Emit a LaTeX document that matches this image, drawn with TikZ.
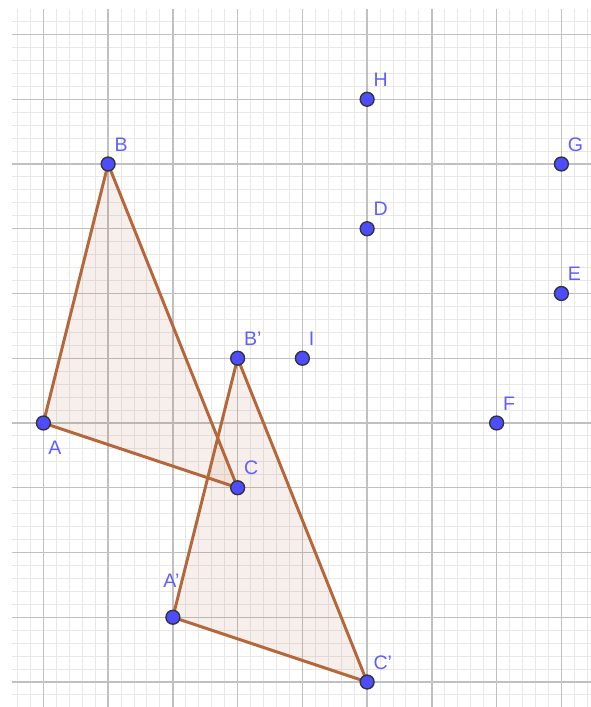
\documentclass[tikz,border=0pt]{standalone}
\usepackage{fontspec}
\setmainfont{Liberation Sans}
\usetikzlibrary{calc}
\definecolor{gmajor}{RGB}{192,192,192}
\definecolor{gminor}{RGB}{232,232,232}
\definecolor{ptblue}{RGB}{77,77,255}
\definecolor{lblblue}{RGB}{95,95,255}
\definecolor{tribrown}{RGB}{181,103,60}
\begin{document}
\begin{tikzpicture}[x=1cm,y=1cm,
  minorgrid/.style={draw=gminor,line width=0.45pt},
  majorgrid/.style={draw=gmajor,line width=0.65pt},
  tri/.style={draw=tribrown,line width=1.3pt,line join=round,fill=tribrown,fill opacity=0.1},
  pt/.style={circle,fill=ptblue,draw=black!80,line width=0.6pt,inner sep=0pt,minimum size=0.215cm},
  lbl/.style={text=lblblue,font=\fontsize{8.6pt}{10pt}\selectfont,inner sep=0pt,anchor=base west}
]
\useasboundingbox (-0.670,-4.386) rectangle (8.457,6.533);
% minor grid
\foreach \i in {-2,...,42}{
  \pgfmathtruncatemacro{\r}{mod(\i+10,5)}
  \ifnum\r=0\relax\else
    \draw[minorgrid] (\i*0.2,-4.386) -- (\i*0.2,6.394);
  \fi
}
\foreach \j in {-21,...,31}{
  \pgfmathtruncatemacro{\r}{mod(\j+30,5)}
  \ifnum\r=0\relax\else
    \draw[minorgrid] (-0.485,\j*0.2) -- (8.457,\j*0.2);
  \fi
}
% major grid
\foreach \i in {0,...,8}{
  \draw[majorgrid] (\i,-4.386) -- (\i,6.394);
}
\foreach \j in {-4,...,6}{
  \draw[majorgrid] (-0.485,\j) -- (8.457,\j);
}
% coordinates
\coordinate (A) at (0,0);
\coordinate (B) at (1,4);
\coordinate (C) at (3,-1);
\coordinate (A1) at (2,-3);
\coordinate (B1) at (3,1);
\coordinate (C1) at (5,-4);
\coordinate (I) at (4,1);
\coordinate (H) at (5,5);
\coordinate (D) at (5,3);
\coordinate (G) at (8,4);
\coordinate (E) at (8,2);
\coordinate (F) at (7,0);
% triangles
\path[tri] (A) -- (B) -- (C) -- cycle;
\path[tri] (A1) -- (B1) -- (C1) -- cycle;
% points
\foreach \p in {A,B,C,A1,B1,C1,I,H,D,G,E,F}{
  \node[pt] (p\p) at (\p) {};
}
% labels
\node[lbl] (lB) at ($(B)+(0.093,0.2)$) {B};
\node[lbl] (lH) at ($(H)+(0.093,0.2)$) {H};
\node[lbl] (lG) at ($(G)+(0.093,0.2)$) {G};
\node[lbl] (lD) at ($(D)+(0.093,0.2)$) {D};
\node[lbl] (lE) at ($(E)+(0.093,0.2)$) {E};
\node[lbl] (lB1) at ($(B1)+(0.093,0.2)$) {B'};
\node[lbl] (lI) at ($(I)+(0.093,0.2)$) {I};
\node[lbl] (lF) at ($(F)+(0.093,0.2)$) {F};
\node[lbl] (lC) at ($(C)+(0.093,0.2)$) {C};
\node[lbl] (lC1) at ($(C1)+(0.093,0.2)$) {C'};
\node[lbl] (lA) at ($(A)+(0.071,-0.494)$) {A};
\node[lbl] (lA1) at ($(A1)+(-0.153,0.452)$) {A'};
\end{tikzpicture}
\end{document}
